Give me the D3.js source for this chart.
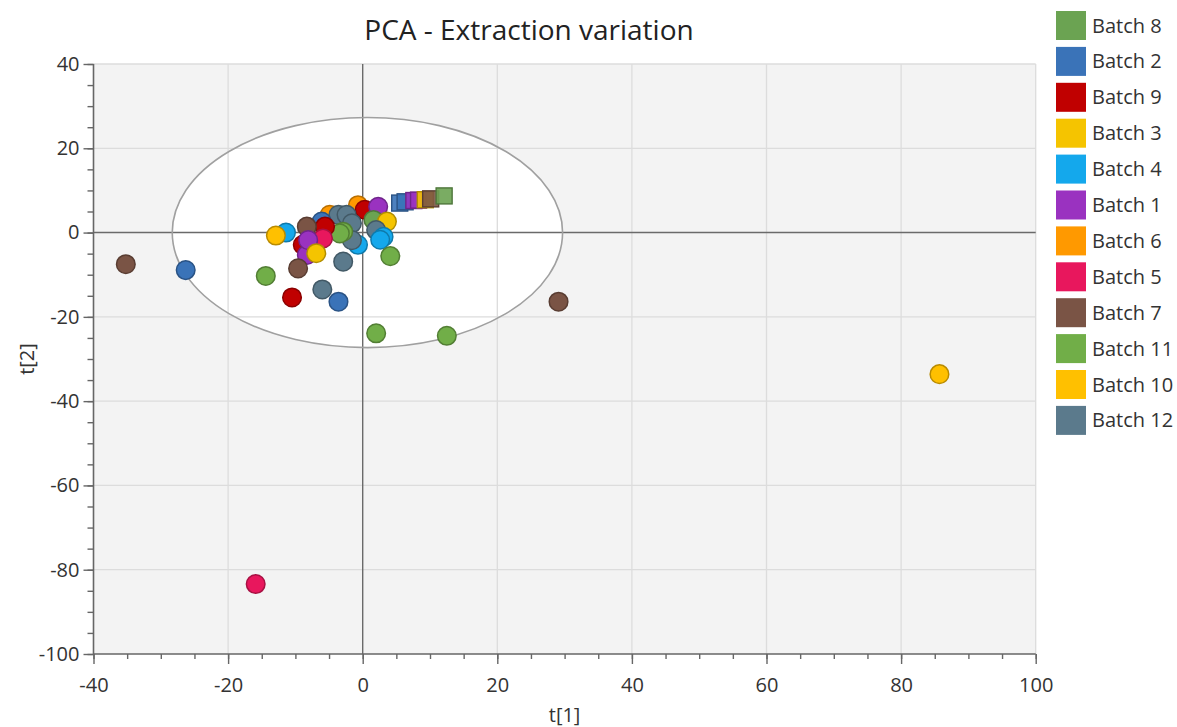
<!DOCTYPE html>
<html>
<head>
<meta charset="utf-8">
<script src="https://cdn.jsdelivr.net/npm/d3@7"></script>
<style>
  html, body { margin: 0; padding: 0; background: #fff; }
  svg { display: block; font-family: "Open Sans", "Noto Sans", sans-serif; }
</style>
</head>
<body>
<svg id="chart" width="1177" height="727"></svg>
<script>
// Batches shown in the legend, in legend order, with their colours
const batchNames = ["Batch 8", "Batch 2", "Batch 9", "Batch 3", "Batch 4", "Batch 1",
                    "Batch 6", "Batch 5", "Batch 7", "Batch 11", "Batch 10", "Batch 12"];
const batchColors = ["#6BA352", "#3A73B8", "#C00000", "#F5C400", "#14A8EC", "#9A32C0",
                     "#FF9900", "#E8175D", "#7A5445", "#71AE48", "#FFC000", "#5B7A8C"];

// Axis ticks
const xTicks = [-40, -20, 0, 20, 40, 60, 80, 100];
const yTicks = [40, 20, 0, -20, -40, -60, -80, -100];

// Score rows: [batch, t[1], t[2]] — square markers
const squareScores = [
  ["Batch 2", 5.5, 7.0],
  ["Batch 2", 6.3, 7.3],
  ["Batch 1", 7.6, 7.6],
  ["Batch 1", 8.3, 7.7],
  ["Batch 3", 9.3, 7.8],
  ["Batch 7", 10.1, 8.0],
  ["Batch 8", 12.1, 8.7]
];

// Score rows: [batch, t[1], t[2]] — circle markers, drawn back to front
const circleScores = [
  ["Batch 6", -4.9, 4.2],
  ["Batch 12", -3.6, 4.2],
  ["Batch 6", -0.7, 6.5],
  ["Batch 9", 0.3, 5.4],
  ["Batch 1", 2.3, 6.1],
  ["Batch 12", -2.4, 4.2],
  ["Batch 2", -6.1, 2.6],
  ["Batch 8", 1.6, 3.0],
  ["Batch 3", 3.6, 2.6],
  ["Batch 12", -1.6, 2.2],
  ["Batch 12", 2.0, 0.6],
  ["Batch 4", 3.1, -1.0],
  ["Batch 4", 2.6, -1.7],
  ["Batch 4", -0.7, -2.9],
  ["Batch 12", -1.6, -1.8],
  ["Batch 11", -2.9, 0.2],
  ["Batch 11", -3.4, -0.2],
  ["Batch 9", -5.6, 1.4],
  ["Batch 5", -5.9, -1.4],
  ["Batch 9", -8.9, -2.9],
  ["Batch 7", -8.3, 1.4],
  ["Batch 4", -11.4, 0.0],
  ["Batch 10", -12.9, -0.7],
  ["Batch 1", -8.3, -5.3],
  ["Batch 1", -8.1, -1.8],
  ["Batch 3", -6.9, -4.9],
  ["Batch 12", -2.9, -6.9],
  ["Batch 11", 4.1, -5.6],
  ["Batch 7", -9.6, -8.5],
  ["Batch 11", -14.4, -10.3],
  ["Batch 2", -26.3, -8.9],
  ["Batch 7", -35.2, -7.5],
  ["Batch 9", -10.5, -15.4],
  ["Batch 12", -6.0, -13.5],
  ["Batch 2", -3.6, -16.4],
  ["Batch 11", 2.0, -23.9],
  ["Batch 11", 12.5, -24.5],
  ["Batch 7", 29.1, -16.4],
  ["Batch 10", 85.7, -33.6],
  ["Batch 5", -15.9, -83.4]
];

// Hotelling's T2 ellipse: centre and radii in score units
const ellipseCentre = [0.7, 0];
const ellipseRadii = [29, 27.3];

const svg = d3.select("#chart");
const plot = { left: 93.5, right: 1035.7, top: 64, bottom: 654 };
const fontStack = "'Open Sans', 'Noto Sans', sans-serif";

const x = d3.scaleLinear().domain([-40, 100]).range([plot.left, plot.right]);
const y = d3.scaleLinear().domain([-100, 40]).range([plot.bottom, plot.top]);
const color = d3.scaleOrdinal().domain(batchNames).range(batchColors);
const edge = b => d3.color(color(b)).darker(0.9).formatHex();
const label = d => String(d);

// Plot background
svg.append("rect")
  .attr("x", plot.left).attr("y", plot.top)
  .attr("width", plot.right - plot.left).attr("height", plot.bottom - plot.top)
  .attr("fill", "#f3f3f3");

const ellipseAttrs = sel => sel
  .attr("cx", x(ellipseCentre[0])).attr("cy", y(ellipseCentre[1]))
  .attr("rx", x(ellipseRadii[0]) - x(0)).attr("ry", y(0) - y(ellipseRadii[1]));

// Ellipse fill
svg.append("ellipse").call(ellipseAttrs).attr("fill", "#ffffff");

// Grid lines
const grid = svg.append("g").attr("stroke", "#dcdcdc").attr("stroke-width", 1.3);
xTicks.filter(v => v !== 0 && v !== -40).forEach(v => {
  grid.append("line").attr("x1", x(v)).attr("x2", x(v)).attr("y1", plot.top).attr("y2", plot.bottom);
});
yTicks.filter(v => v !== 0 && v !== -100).forEach(v => {
  grid.append("line").attr("x1", plot.left).attr("x2", plot.right).attr("y1", y(v)).attr("y2", y(v));
});

// Zero lines
svg.append("line").attr("x1", x(0)).attr("x2", x(0)).attr("y1", plot.top).attr("y2", plot.bottom)
  .attr("stroke", "#6a6a6a").attr("stroke-width", 1.4);
svg.append("line").attr("x1", plot.left).attr("x2", plot.right).attr("y1", y(0)).attr("y2", y(0))
  .attr("stroke", "#6a6a6a").attr("stroke-width", 1.4);

// Ellipse outline
svg.append("ellipse").call(ellipseAttrs)
  .attr("fill", "none").attr("stroke", "#a0a0a0").attr("stroke-width", 1.6);

// Axes: minor ticks every 5, labelled ticks every 20
const minorX = d3.range(-40, 100.1, 5);
const minorY = d3.range(-100, 40.1, 5);

const xAxis = d3.axisBottom(x).tickValues(minorX).tickSize(5).tickFormat("");
const xMajor = d3.axisBottom(x).tickValues(xTicks).tickSize(10).tickPadding(14).tickFormat(label);
const yAxis = d3.axisLeft(y).tickValues(minorY).tickSize(6).tickFormat("");
const yMajor = d3.axisLeft(y).tickValues(yTicks).tickSize(10).tickPadding(4).tickFormat(label);

function styleAxis(g) {
  g.select(".domain").attr("stroke", "#666").attr("stroke-width", 1.6);
  g.selectAll(".tick line").attr("stroke", "#666").attr("stroke-width", 1.4);
  g.selectAll(".tick text").attr("fill", "#333").style("font-size", "20px")
    .style("font-family", fontStack);
}

svg.append("g").attr("transform", `translate(0,${plot.bottom})`).call(xAxis).call(styleAxis)
  .select(".domain").attr("d", `M${plot.left},0H${plot.right}`);
svg.append("g").attr("transform", `translate(0,${plot.bottom})`).call(xMajor).call(styleAxis)
  .select(".domain").remove();
svg.append("g").attr("transform", `translate(${plot.left},0)`).call(yAxis).call(styleAxis)
  .select(".domain").attr("d", `M0,${plot.top}V${plot.bottom}`);
svg.append("g").attr("transform", `translate(${plot.left},0)`).call(yMajor).call(styleAxis)
  .select(".domain").remove();

// Square markers
const sq = 16;
svg.append("g").selectAll("rect").data(squareScores).join("rect")
  .attr("x", d => x(d[1]) - sq / 2).attr("y", d => y(d[2]) - sq / 2)
  .attr("width", sq).attr("height", sq)
  .attr("fill", d => color(d[0])).attr("fill-opacity", 0.9)
  .attr("stroke", d => edge(d[0])).attr("stroke-width", 1.4);

// Circle markers
svg.append("g").selectAll("circle").data(circleScores).join("circle")
  .attr("cx", d => x(d[1])).attr("cy", d => y(d[2])).attr("r", 9.3)
  .attr("fill", d => color(d[0]))
  .attr("stroke", d => edge(d[0])).attr("stroke-width", 1.5);

// Title and axis titles
svg.append("text").attr("x", 529).attr("y", 40).attr("text-anchor", "middle")
  .attr("fill", "#222").style("font-size", "28px").text("PCA - Extraction variation");
svg.append("text").attr("x", (plot.left + plot.right) / 2).attr("y", 722).attr("text-anchor", "middle")
  .attr("fill", "#333").style("font-size", "20px").text("t[1]");
svg.append("text").attr("transform", `translate(34,${(plot.top + plot.bottom) / 2}) rotate(-90)`)
  .attr("text-anchor", "middle").attr("fill", "#333").style("font-size", "20px").text("t[2]");

// Legend
const legend = svg.append("g").attr("transform", "translate(1056,11)");
const row = legend.selectAll("g").data(batchNames).join("g")
  .attr("transform", (d, i) => `translate(0,${i * 35.9})`);
row.append("rect").attr("width", 30).attr("height", 29).attr("fill", d => color(d));
row.append("text").attr("x", 36).attr("y", 14.5).attr("dy", "0.35em")
  .attr("fill", "#333").style("font-size", "20px").text(d => d);
</script>
</body>
</html>
